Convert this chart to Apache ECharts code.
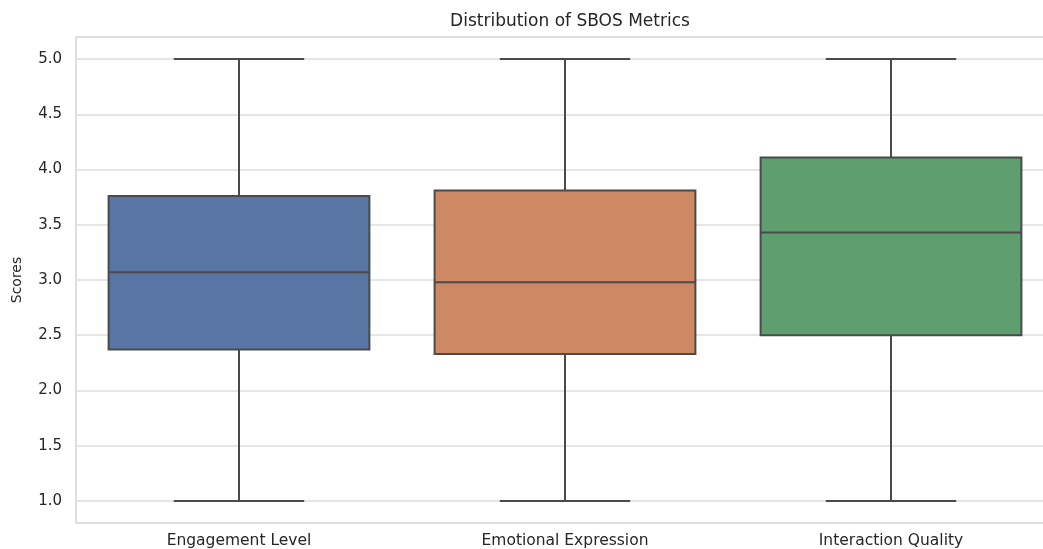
<!DOCTYPE html>
<html>
<head>
<meta charset="utf-8">
<title>Distribution of SBOS Metrics</title>
<script src="https://cdn.jsdelivr.net/npm/echarts@6/dist/echarts.min.js"></script>
<style>
  html, body { margin: 0; padding: 0; background: #fff; }
  #chart { width: 1043px; height: 549px; }
</style>
</head>
<body>
<div id="chart"></div>
<script>
// data
const categories = ["Engagement Level", "Emotional Expression", "Interaction Quality"];
const mins    = [1.0, 1.0, 1.0];
const q1s     = [2.37, 2.33, 2.50];
const medians = [3.07, 2.98, 3.43];
const q3s     = [3.76, 3.81, 4.11];
const maxs    = [5.0, 5.0, 5.0];
const yTicks  = [1.0, 1.5, 2.0, 2.5, 3.0, 3.5, 4.0, 4.5, 5.0];
const boxColors = ["#5875a4", "#cc8963", "#5f9e6e"];

const font = "DejaVu Sans";
const edge = "#4a4a4a";

let chart = echarts.init(document.getElementById("chart"));

// seaborn style box: body 80% of band, caps 40%
function renderBox(params, api) {
  const i = api.value(0);
  const band = api.size([1, 0])[0];
  const half = band * 0.4;
  const capHalf = band * 0.2;
  const pMin = api.coord([i, api.value(1)]);
  const pQ1 = api.coord([i, api.value(2)]);
  const pMed = api.coord([i, api.value(3)]);
  const pQ3 = api.coord([i, api.value(4)]);
  const pMax = api.coord([i, api.value(5)]);
  const x = pQ1[0];
  const ls = { stroke: edge, lineWidth: 2 };
  return {
    type: "group",
    children: [
      { type: "line", shape: { x1: x, y1: pQ1[1], x2: x, y2: pMin[1] }, style: ls },
      { type: "line", shape: { x1: x, y1: pQ3[1], x2: x, y2: pMax[1] }, style: ls },
      { type: "line", shape: { x1: x - capHalf, y1: pMin[1], x2: x + capHalf, y2: pMin[1] }, style: ls },
      { type: "line", shape: { x1: x - capHalf, y1: pMax[1], x2: x + capHalf, y2: pMax[1] }, style: ls },
      {
        type: "rect",
        shape: { x: x - half, y: pQ3[1], width: half * 2, height: pQ1[1] - pQ3[1] },
        style: { fill: boxColors[i], stroke: edge, lineWidth: 2 }
      },
      { type: "line", shape: { x1: x - half, y1: pMed[1], x2: x + half, y2: pMed[1] }, style: ls }
    ]
  };
}

let myData = categories.map((c, i) => [i, mins[i], q1s[i], medians[i], q3s[i], maxs[i]]);

chart.setOption({
  animation: false,
  title: {
    text: "Distribution of SBOS Metrics",
    left: 565,
    textAlign: "center",
    top: 8,
    textStyle: { fontFamily: font, fontSize: 17, fontWeight: "normal", color: "#262626" }
  },
  grid: {
    left: 76,
    right: -11,
    top: 37,
    bottom: 26,
    outerBoundsMode: "none",
    show: true,
    borderColor: "#d4d4d4",
    borderWidth: 1.5
  },
  xAxis: {
    type: "category",
    data: categories,
    axisLine: { show: false },
    axisTick: { show: false },
    splitLine: { show: false },
    axisLabel: { fontFamily: font, fontSize: 15.5, color: "#262626", margin: 10 }
  },
  yAxis: {
    type: "value",
    min: 0.8,
    max: 5.2,
    name: "Scores",
    nameLocation: "middle",
    nameGap: 52,
    nameTextStyle: { fontFamily: font, fontSize: 14, color: "#262626" },
    axisLine: { show: false },
    axisTick: { show: false, customValues: yTicks },
    axisLabel: {
      customValues: yTicks,
      fontFamily: font,
      fontSize: 15,
      color: "#262626",
      margin: 14,
      formatter: v => v.toFixed(1)
    },
    splitLine: { show: true, lineStyle: { color: "#dedede", width: 1.5 } }
  },
  series: [{
    type: "custom",
    renderItem: renderBox,
    encode: { x: 0, y: [1, 2, 3, 4, 5] },
    data: myData,
    z: 3
  }]
});

window.onresize = function () {
  chart.resize();
};
</script>
</body>
</html>
